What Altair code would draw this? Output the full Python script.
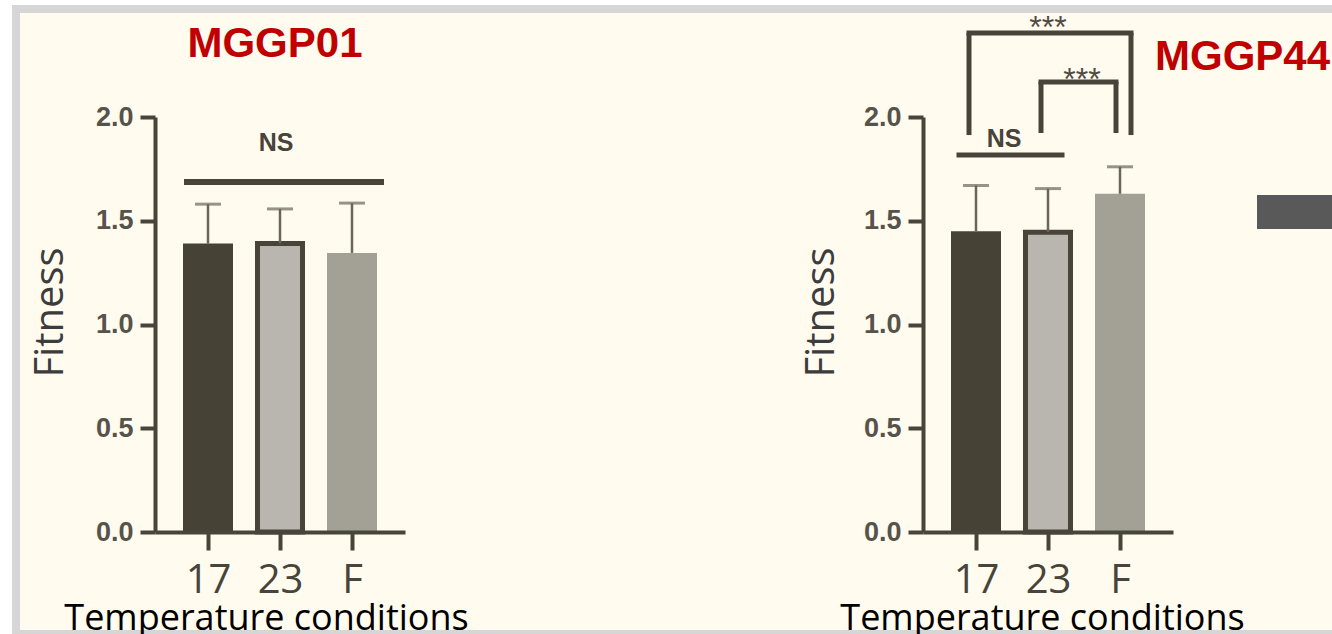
import json
import altair as alt
import pandas as pd

# ---------------- data ----------------
categories = ["17", "23", "F"]
bar_colors = ["#474236", "#B9B6AF", "#A3A196"]
outlined = ["23"]

p1_mean = [1.39, 1.39, 1.345]
p1_err = [0.19, 0.167, 0.24]
p2_mean = [1.45, 1.445, 1.63]
p2_err = [0.22, 0.21, 0.13]

y_ticks = [0.0, 0.5, 1.0, 1.5, 2.0]
panel_titles = ["MGGP01", "MGGP44"]
x_title = "Temperature conditions"
y_title = "Fitness"

# significance annotations (bracket from group, to group, bar level, leg bottom, text, text level)
p1_sig_from = ["17"]
p1_sig_to = ["F"]
p1_sig_level = [1.687]
p1_sig_leg = [None]
p1_sig_text = ["NS"]
p1_sig_text_level = [1.875]

p2_sig_from = ["17", "17", "23"]
p2_sig_to = ["23", "F", "F"]
p2_sig_level = [1.817, 2.405, 2.169]
p2_sig_leg = [None, 1.913, 1.923]
p2_sig_text = ["NS", "***", "***"]
p2_sig_text_level = [1.895, 2.467, 2.217]

# ---------------- styles ----------------
p1_sig_style = [dict(lo=-21, ro=29, w=6, dx=-4)]
p2_sig_style = [dict(lo=-17, ro=14, w=5, dx=-8),
                dict(lo=-7, ro=11, w=5, dx=0),
                dict(lo=-7, ro=-4, w=5, dx=-2)]

AX = "#48443A"
ERR = "#6A665C"
CREAM = "#FFFBEF"
CATS = json.dumps(categories).replace('"', "'")

xs = alt.Scale(domain=[-2 / 3, len(categories) - 1 + 2 / 3], nice=False, zero=False)
ys = alt.Scale(domain=[0, 2], nice=False, zero=True)
color_scale = alt.Scale(domain=categories, range=bar_colors)


def x_axis(title_x):
    return alt.Axis(values=list(range(len(categories))), labelExpr=f"{CATS}[datum.value]",
                    labelFont="Open Sans", labelFontSize=40, labelColor=AX, labelPadding=10,
                    labelFlush=False, labelOverlap=False,
                    tickSize=18, tickWidth=4, tickColor=AX, domainWidth=4, domainColor=AX,
                    grid=False, zindex=1,
                    titleFont="Open Sans", titleFontSize=36, titleFontWeight="normal",
                    titleColor="#000000", titleX=title_x, titleY=97, titleBaseline="alphabetic",
                    titleAlign="center")


def y_axis(title_x):
    return alt.Axis(values=y_ticks, format=".1f", labelFont="Liberation Sans", labelFontWeight="bold",
                    labelFontSize=27, labelColor="#57534B", labelPadding=7, labelFlush=False,
                    tickSize=15, tickWidth=4, tickColor=AX, domainWidth=4, domainColor=AX,
                    grid=False, zindex=1,
                    titleFont="Open Sans", titleFontSize=40, titleFontWeight="normal",
                    titleColor="#3C3C3C", titleX=title_x, titleY=195, titleAngle=270,
                    titleBaseline="alphabetic", titleAlign="center")


def rect(x, x2, y, y2, color):
    return alt.Chart(pd.DataFrame({"d": [0]})).mark_rect(color=color).encode(
        x=alt.value(x), x2=alt.value(x2), y=alt.value(y), y2=alt.value(y2))


def make_panel(means, errs, sfrom, sto, slevel, sleg, stext, stlevel, styles,
               title, title_x, title_y, title_align, xt_x, yt_x, decor):
    xa = x_axis(xt_x)
    ya = y_axis(yt_x)

    def X(f):
        return alt.X(f, type="quantitative", scale=xs, axis=xa, title=x_title)

    def Y(f, **kw):
        return alt.Y(f, type="quantitative", scale=ys, axis=ya, title=y_title, **kw)

    df = pd.DataFrame({"cond": categories, "mean": means, "err": errs})
    base = alt.Chart(df).transform_calculate(
        pos=f"indexof({CATS}, datum.cond)", top="datum.mean + datum.err")

    bars = base.mark_bar(size=50).encode(
        x=X("pos"), y=Y("mean", stack=None),
        color=alt.Color("cond:N", scale=color_scale, legend=None))
    outl = base.transform_filter(
        alt.FieldOneOfPredicate(field="cond", oneOf=outlined)).mark_bar(
        size=45, stroke=AX, strokeWidth=5).encode(
        x=X("pos"), y=Y("mean", stack=None),
        color=alt.Color("cond:N", scale=color_scale, legend=None))
    err_line = base.mark_rule(strokeWidth=2.5, color=ERR).encode(
        x=X("pos"), y=Y("mean"), y2=alt.Y2("top:Q"))
    err_cap = base.mark_tick(size=26, thickness=3, orient="horizontal", color=ERR).encode(
        x=X("pos"), y=Y("top"))

    layers = list(decor) + [bars, outl, err_line, err_cap]

    for i in range(len(sfrom)):
        st = styles[i]
        adf = pd.DataFrame({"g1": [sfrom[i]], "g2": [sto[i]], "lev": [slevel[i]],
                            "leg": [sleg[i] if sleg[i] is not None else float("nan")],
                            "lab": [stext[i]], "labl": [stlevel[i]]})
        ab = alt.Chart(adf).transform_calculate(
            x1=f"indexof({CATS}, datum.g1)", x2=f"indexof({CATS}, datum.g2)",
            mid=f"(indexof({CATS}, datum.g1) + indexof({CATS}, datum.g2)) / 2")
        layers.append(ab.mark_rule(strokeWidth=st["w"], color=AX, strokeCap="square",
                                   xOffset=st["lo"], x2Offset=st["ro"]).encode(
            x=X("x1"), x2=alt.X2("x2:Q"), y=Y("lev")))
        if sleg[i] is not None:
            layers.append(ab.mark_rule(strokeWidth=st["w"], color=AX, xOffset=st["lo"]).encode(
                x=X("x1"), y=Y("leg"), y2=alt.Y2("lev:Q")))
            layers.append(ab.mark_rule(strokeWidth=st["w"], color=AX, xOffset=st["ro"]).encode(
                x=X("x2"), y=Y("leg"), y2=alt.Y2("lev:Q")))
        if stext[i] == "NS":
            tmark = ab.mark_text(font="Liberation Sans", fontWeight="bold", fontSize=25,
                                 color=AX, baseline="middle", align="center", dx=st["dx"])
        else:
            tmark = ab.mark_text(font="Liberation Sans", fontSize=32, color="#4F4B42",
                                 baseline="middle", align="center", dx=st["dx"], dy=8)
        layers.append(tmark.encode(x=X("mid"), y=Y("labl"), text="lab:N"))

    ttl = alt.Chart(pd.DataFrame({"t": [title]})).mark_text(
        font="Liberation Sans", fontWeight="bold", fontSize=42, color="#C00000",
        align=title_align, baseline="alphabetic").encode(
        x=alt.value(title_x), y=alt.value(title_y), text="t:N")
    layers.append(ttl)

    return alt.layer(*layers).properties(width=250, height=415)


decor1 = [rect(-155, 1177, -117, 517, "#FFFFFF"),
          rect(-143, 1177, -112, 517, "#D6D6D6"),
          rect(-135, 1177, -104, 513, CREAM)]
decor2 = [rect(334, 409, 78, 112, "#595959")]

p1 = make_panel(p1_mean, p1_err, p1_sig_from, p1_sig_to, p1_sig_level, p1_sig_leg,
                p1_sig_text, p1_sig_text_level, p1_sig_style,
                panel_titles[0], 120, -60, "center", 111, -93, decor1)
p2 = make_panel(p2_mean, p2_err, p2_sig_from, p2_sig_to, p2_sig_level, p2_sig_leg,
                p2_sig_text, p2_sig_text_level, p2_sig_style,
                panel_titles[1], 232, -47, "left", 119, -90, decor2)

chart = alt.hconcat(p1, p2, spacing=518, bounds="flush").properties(
    padding=0, background="#FFFFFF").configure_view(stroke=None)

chart.save("out.html", embed_options={"renderer": "svg", "actions": False})
